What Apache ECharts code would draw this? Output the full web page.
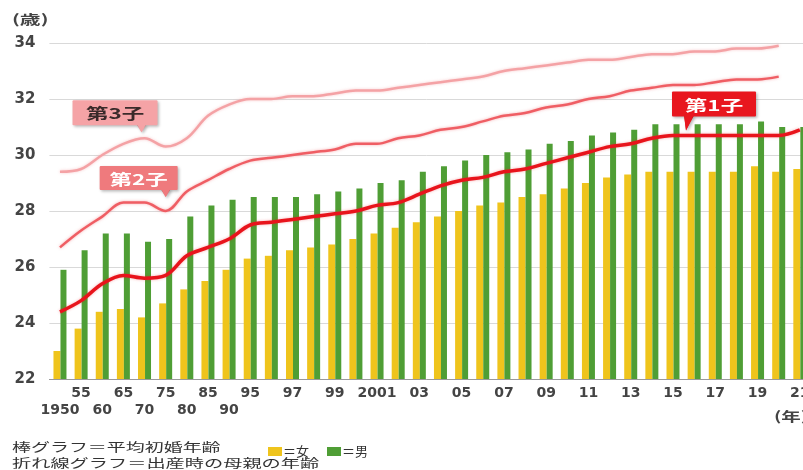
<!DOCTYPE html>
<html>
<head>
<meta charset="utf-8">
<script src="https://cdn.jsdelivr.net/npm/echarts@6/dist/echarts.min.js"></script>
<style>
  html, body { margin: 0; padding: 0; background: #fff; }
  #chart { width: 803px; height: 470px; }
</style>
</head>
<body>
<div id="chart"></div>
<script>
// Survey years: every 5 years up to 1995, then yearly to 2021
const years = ['1950','1955','1960','1965','1970','1975','1980','1985','1990','1995',
  '1996','1997','1998','1999','2000','2001','2002','2003','2004','2005',
  '2006','2007','2008','2009','2010','2011','2012','2013','2014','2015',
  '2016','2017','2018','2019','2020','2021'];

// Tick text shown under each year ('' = no label)
const tickLabels = ['1950','55','60','65','70','75','80','85','90','95',
  '','97','','99','','2001','','03','','05',
  '','07','','09','','11','','13','','15',
  '','17','','19','','21'];

// Average age at first marriage (bars)
const firstMarriageWomen = [23.0,23.8,24.4,24.5,24.2,24.7,25.2,25.5,25.9,26.3,
  26.4,26.6,26.7,26.8,27.0,27.2,27.4,27.6,27.8,28.0,
  28.2,28.3,28.5,28.6,28.8,29.0,29.2,29.3,29.4,29.4,
  29.4,29.4,29.4,29.6,29.4,29.5];
const firstMarriageMen = [25.9,26.6,27.2,27.2,26.9,27.0,27.8,28.2,28.4,28.5,
  28.5,28.5,28.6,28.7,28.8,29.0,29.1,29.4,29.6,29.8,
  30.0,30.1,30.2,30.4,30.5,30.7,30.8,30.9,31.1,31.1,
  31.1,31.1,31.1,31.2,31.0,31.0];

// Mother's age at birth, by birth order (lines)
const motherAgeFirst = [24.4,24.8,25.4,25.7,25.6,25.7,26.4,26.7,27.0,27.5,
  27.6,27.7,27.8,27.9,28.0,28.2,28.3,28.6,28.9,29.1,
  29.2,29.4,29.5,29.7,29.9,30.1,30.3,30.4,30.6,30.7,
  30.7,30.7,30.7,30.7,30.7,30.9];
const motherAgeSecond = [26.7,27.3,27.8,28.3,28.3,28.0,28.7,29.1,29.5,29.8,
  29.9,30.0,30.1,30.2,30.4,30.4,30.6,30.7,30.9,31.0,
  31.2,31.4,31.5,31.7,31.8,32.0,32.1,32.3,32.4,32.5,
  32.5,32.6,32.7,32.7,32.8,null];
const motherAgeThird = [29.4,29.5,30.0,30.4,30.6,30.3,30.6,31.4,31.8,32.0,
  32.0,32.1,32.1,32.2,32.3,32.3,32.4,32.5,32.6,32.7,
  32.8,33.0,33.1,33.2,33.3,33.4,33.4,33.5,33.6,33.6,
  33.7,33.7,33.8,33.8,33.9,null];

const Y_MIN = 22, Y_MAX = 34, Y_STEP = 2;

const CJK = '"Noto Sans CJK JP", "Noto Sans", sans-serif';
const NUM = '"DejaVu Sans", sans-serif';

const chart = echarts.init(document.getElementById('chart'), null, { renderer: 'canvas' });

function lineSeries(name, data, color, width, halo) {
  return {
    name, type: 'line', data, smooth: 0.35, symbol: 'none', z: 5,
    lineStyle: { color, width, shadowColor: halo, shadowBlur: 3 },
    emphasis: { disabled: true }
  };
}

chart.setOption({
  animation: false,
  backgroundColor: '#ffffff',
  grid: { left: 49.4, top: 43, width: 761, height: 336, containLabel: false, outerBoundsMode: 'none' },
  legend: {
    data: ['女', '男'],
    left: 263, top: 440,
    icon: 'rect', itemWidth: 14, itemHeight: 9, itemGap: 18,
    formatter: n => '＝' + n,
    textStyle: { fontFamily: CJK, fontSize: 13, color: '#333', padding: [0, 0, 0, -4] },
    selectedMode: false
  },
  xAxis: {
    type: 'category',
    data: years,
    axisLine: { show: true, lineStyle: { color: '#9a9a9a', width: 1 } },
    axisTick: { show: false },
    axisLabel: {
      interval: 0,
      margin: 6,
      fontFamily: NUM, fontSize: 14, fontWeight: 'bold', color: '#444',
      lineHeight: 17,
      formatter: (v, i) => {
        const t = tickLabels[i];
        // half-decade years before 1995 alternate between two rows
        return (i < 10 && i % 2 === 0) ? '\n' + t : t;
      }
    }
  },
  yAxis: {
    type: 'value',
    min: Y_MIN, max: Y_MAX, interval: Y_STEP,
    axisLine: { show: false },
    axisTick: { show: false },
    axisLabel: { margin: 14, fontFamily: NUM, fontSize: 15, fontWeight: 'bold', color: '#444' },
    splitLine: { lineStyle: { color: '#d9d9d9', width: 1 } }
  },
  series: [
    { name: '女', type: 'bar', data: firstMarriageWomen, barWidth: 7, barGap: '0%',
      itemStyle: { color: '#efc41c' }, emphasis: { disabled: true } },
    { name: '男', type: 'bar', data: firstMarriageMen, barWidth: 6, barGap: '0%',
      itemStyle: { color: '#4f9e35' }, emphasis: { disabled: true } },
    lineSeries('第3子', motherAgeThird, '#f4a2a5', 2.5, 'rgba(244,162,165,0.6)'),
    lineSeries('第2子', motherAgeSecond, '#ef5e64', 2.5, 'rgba(239,94,100,0.5)'),
    lineSeries('第1子', motherAgeFirst, '#e8141c', 3.5, 'rgba(232,20,28,0.35)')
  ]
});

// Callout boxes pointing at a year on each birth-order line
const callouts = [
  { text: '第3子', values: motherAgeThird, year: '1970', fill: '#f5a3a6', color: '#3a2a2a',
    tip: [-3, -6], left: -69, top: -32, w: 85, h: 25, base: [-5, 5] },
  { text: '第2子', values: motherAgeSecond, year: '1975', fill: '#ef7a7d', color: '#ffffff',
    tip: [0, -14], left: -66, top: -31, w: 78, h: 24, base: [-5, 5] },
  { text: '第1子', values: motherAgeFirst, year: '2015', fill: '#e8161e', color: '#ffffff',
    tip: [13, -5], left: -14, top: -39, w: 84, h: 25, base: [-2, 8] }
];

const graphics = [];
callouts.forEach(c => {
  const idx = years.indexOf(c.year);
  const p = chart.convertToPixel({ gridIndex: 0 }, [c.year, c.values[idx]]);
  const tx = p[0] + c.tip[0], ty = p[1] + c.tip[1];
  const bx = tx + c.left, by = ty + c.top;
  const shadow = { shadowBlur: 3, shadowOffsetX: 1.5, shadowOffsetY: 1.5, shadowColor: 'rgba(0,0,0,0.28)' };
  graphics.push({
    type: 'polygon', z: 20,
    shape: { points: [[tx + c.base[0], by + c.h - 1], [tx + c.base[1], by + c.h - 1], [tx, ty]] },
    style: Object.assign({ fill: c.fill }, shadow)
  });
  graphics.push({
    type: 'rect', z: 21,
    shape: { x: bx, y: by, width: c.w, height: c.h, r: 1 },
    style: Object.assign({ fill: c.fill }, shadow)
  });
  graphics.push({
    type: 'polygon', z: 22,
    shape: { points: [[tx + c.base[0], by + c.h - 2], [tx + c.base[1], by + c.h - 2], [tx, ty]] },
    style: { fill: c.fill }
  });
  graphics.push({
    type: 'text', z: 23, x: bx + c.w / 2, y: by + c.h / 2 + 1, scaleX: 1.5,
    style: { text: c.text, x: 0, y: 0, align: 'center', verticalAlign: 'middle',
      fill: c.color, font: 'bold 15px ' + CJK }
  });
});

// Units and notes
graphics.push({
  type: 'text', x: 12, y: 19, scaleX: 1.6,
  style: { text: '(歳)', align: 'left', verticalAlign: 'middle', fill: '#444', font: 'bold 13px ' + CJK }
});
graphics.push({
  type: 'text', x: 774, y: 416, scaleX: 1.5,
  style: { text: '(年)', align: 'left', verticalAlign: 'middle', fill: '#444', font: 'bold 13px ' + CJK }
});
graphics.push({
  type: 'text', x: 12, y: 447, scaleX: 1.58,
  style: { text: '棒グラフ＝平均初婚年齢', align: 'left', verticalAlign: 'middle', fill: '#333', font: '12px ' + CJK }
});
graphics.push({
  type: 'text', x: 12, y: 463, scaleX: 1.6,
  style: { text: '折れ線グラフ＝出産時の母親の年齢', align: 'left', verticalAlign: 'middle', fill: '#333', font: '12px ' + CJK }
});

chart.setOption({ graphic: graphics });
</script>
</body>
</html>
